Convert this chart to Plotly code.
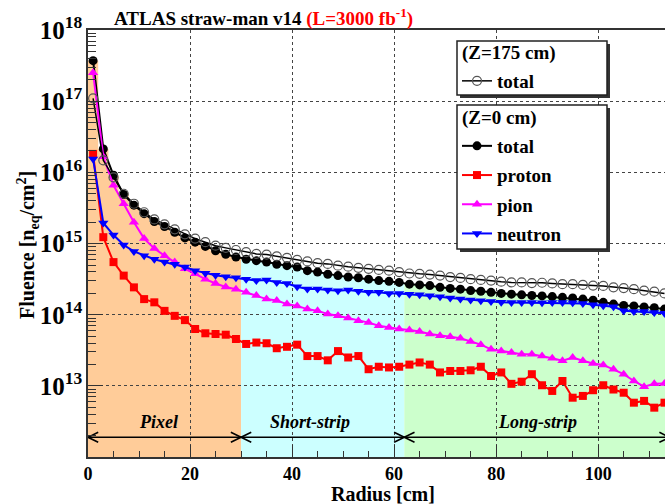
import math
import plotly.graph_objects as go

# ---------------- data ----------------
# bin centres [cm] (2 cm bins)
radius = [1, 3, 5, 7, 9, 11, 13, 15, 17, 19, 21, 23, 25, 27, 29, 31, 33, 35, 37, 39,
          41, 43, 45, 47, 49, 51, 53, 55, 57, 59, 61, 63, 65, 67, 69, 71, 73, 75, 77, 79,
          81, 83, 85, 87, 89, 91, 93, 95, 97, 99, 101, 103, 105, 107, 109, 111, 113]

# log10 of fluence [n_eq/cm^2]
total_z0_log = [17.57, 16.33, 15.96, 15.69, 15.54, 15.42, 15.31, 15.24, 15.16, 15.08,
                15.02, 14.96, 14.90, 14.85, 14.81, 14.78, 14.76, 14.74, 14.71, 14.69,
                14.67, 14.62, 14.60, 14.57, 14.55, 14.53, 14.52, 14.50, 14.48, 14.47,
                14.455, 14.43, 14.42, 14.41, 14.385, 14.37, 14.36, 14.34, 14.33, 14.315,
                14.30, 14.29, 14.28, 14.27, 14.265, 14.255, 14.245, 14.235, 14.22, 14.205,
                14.175, 14.15, 14.13, 14.125, 14.11, 14.10, 14.08]

total_z175_log = [17.04, 16.17, 15.93, 15.70, 15.56, 15.44, 15.34, 15.27, 15.20, 15.13,
                  15.07, 15.02, 14.97, 14.94, 14.91, 14.88, 14.855, 14.845, 14.82, 14.80,
                  14.77, 14.75, 14.725, 14.715, 14.69, 14.675, 14.66, 14.645, 14.63, 14.62,
                  14.60, 14.58, 14.575, 14.565, 14.55, 14.53, 14.517, 14.50, 14.49, 14.48,
                  14.465, 14.455, 14.455, 14.445, 14.45, 14.44, 14.43, 14.43, 14.42, 14.41,
                  14.405, 14.385, 14.375, 14.36, 14.34, 14.325, 14.30]

proton_log = [16.26, 15.09, 14.74, 14.55, 14.385, 14.22, 14.175, 14.055, 13.985, 13.925,
              13.80, 13.74, 13.73, 13.72, 13.66, 13.59, 13.61, 13.60, 13.53, 13.55,
              13.58, 13.42, 13.42, 13.36, 13.49, 13.40, 13.42, 13.235, 13.27, 13.26,
              13.27, 13.30, 13.33, 13.30, 13.19, 13.21, 13.21, 13.22, 13.27, 13.14,
              13.19, 13.03, 13.06, 13.165, 13.01, 12.93, 13.07, 12.835, 12.86, 12.94,
              13.01, 12.95, 12.905, 12.765, 12.79, 12.695, 12.765]

pion_log = [17.40, 16.22, 15.82, 15.56, 15.30, 15.07, 14.93, 14.83, 14.74, 14.645,
            14.575, 14.50, 14.44, 14.39, 14.36, 14.315, 14.27, 14.22, 14.20, 14.15,
            14.125, 14.08, 14.055, 14.01, 13.985, 13.955, 13.915, 13.89, 13.845, 13.82,
            13.80, 13.785, 13.765, 13.73, 13.705, 13.69, 13.67, 13.625, 13.58, 13.515,
            13.49, 13.47, 13.445, 13.445, 13.42, 13.39, 13.355, 13.40, 13.355, 13.315,
            13.295, 13.235, 13.165, 13.07, 12.99, 13.03, 13.035]

neutron_log = [16.19, 15.29, 15.12, 14.98, 14.89, 14.83, 14.78, 14.74, 14.71, 14.67,
               14.62, 14.585, 14.555, 14.535, 14.52, 14.50, 14.48, 14.488, 14.455, 14.44,
               14.395, 14.362, 14.362, 14.348, 14.338, 14.348, 14.33, 14.315, 14.315, 14.30,
               14.30, 14.29, 14.282, 14.268, 14.254, 14.235, 14.221, 14.207, 14.197, 14.187,
               14.175, 14.174, 14.172, 14.174, 14.17, 14.174, 14.172, 14.17, 14.16, 14.141,
               14.127, 14.113, 14.056, 14.047, 14.047, 14.033, 14.02]

# detector regions: name, from [cm], to [cm], colour, label centre [cm]
region_names = ["Pixel", "Short-strip", "Long-strip"]
region_lo = [0, 30, 62]
region_hi = [30, 62, 114]
region_colors = ["#ffcc99", "#ccffff", "#ccffcc"]
region_label_x = [13.9, 43.5, 88.2]

BIN_HALF = 1.0
Y_BOTTOM = 1e12
ARROW_Y = 1.9e12
LABEL_Y = 3.1e12

FONT = "Liberation Serif"


def tov(lst):
    return [10 ** v for v in lst]


total_z0 = tov(total_z0_log)
total_z175 = tov(total_z175_log)
proton = tov(proton_log)
pion = tov(pion_log)
neutron = tov(neutron_log)

# ---------------- figure ----------------
W, H = 665, 504
ML, MR, MT, MB = 88, 0, 30, 47
PW, PH = W - ML - MR, H - MT - MB


def px_x(p):
    return (p - ML) / PW


def px_y(p):
    return (H - MB - p) / PH


fig = go.Figure()

shapes = []
# region fills: histogram of total (Z=0) inside each region, drawn below grid
for lo, hi, col in zip(region_lo, region_hi, region_colors):
    pts = [(lo, Y_BOTTOM)]
    for x, v in zip(radius, total_z0):
        if lo < x < hi:
            pts.append((x - BIN_HALF, v))
            pts.append((x + BIN_HALF, v))
    pts.append((hi, Y_BOTTOM))
    path = "M " + " L ".join(f"{a:.3f},{b:.1f}" for a, b in pts) + " Z"
    shapes.append(dict(type="path", path=path, xref="x", yref="y", layer="below",
                       fillcolor=col, line=dict(width=0)))

# region arrows
ax_, ay_ = [], []
head_dx = 2.0
head_f = 10 ** 0.07
for lo, hi in zip(region_lo, region_hi):
    ax_ += [lo, hi, None]
    ay_ += [ARROW_Y, ARROW_Y, None]
    ax_ += [lo + head_dx, lo, lo + head_dx, None]
    ay_ += [ARROW_Y * head_f, ARROW_Y, ARROW_Y / head_f, None]
    ax_ += [hi - head_dx, hi, hi - head_dx, None]
    ay_ += [ARROW_Y * head_f, ARROW_Y, ARROW_Y / head_f, None]
fig.add_trace(go.Scatter(x=ax_, y=ay_, mode="lines", line=dict(color="black", width=1.6),
                         showlegend=False, hoverinfo="skip"))

# data series
fig.add_trace(go.Scatter(x=radius, y=total_z0, mode="lines+markers", name="total",
                         line=dict(color="black", width=2),
                         marker=dict(symbol="circle", size=9, color="black"),
                         legend="legend2", legendrank=1, legendgroup="g1"))
fig.add_trace(go.Scatter(x=radius, y=proton, mode="lines+markers", name="proton",
                         line=dict(color="#ff0000", width=2),
                         marker=dict(symbol="square", size=8, color="#ff0000"),
                         legend="legend2", legendrank=2, legendgroup="g2"))
fig.add_trace(go.Scatter(x=radius, y=pion, mode="lines+markers", name="pion",
                         line=dict(color="#ff00ff", width=2),
                         marker=dict(symbol="triangle-up", size=9, color="#ff00ff"),
                         legend="legend2", legendrank=3, legendgroup="g3"))
fig.add_trace(go.Scatter(x=radius, y=neutron, mode="lines+markers", name="neutron",
                         line=dict(color="#0000ff", width=2),
                         marker=dict(symbol="triangle-down", size=9, color="#0000ff"),
                         legend="legend2", legendrank=4, legendgroup="g4"))
fig.add_trace(go.Scatter(x=radius, y=total_z175, mode="lines+markers", name="total",
                         line=dict(color="black", width=1.5),
                         marker=dict(symbol="circle-open", size=9, color="#555555",
                                     line=dict(width=1.2, color="#555555")),
                         legend="legend", legendrank=1, legendgroup="g0"))

# legend boxes (shadow + framed white box), drawn above the data
legend_boxes = [(41, 95), (105, 249)]
BOX_L, BOX_R = 457, 607
for top, bot in legend_boxes:
    shapes.append(dict(type="rect", xref="paper", yref="paper", layer="above",
                       x0=px_x(BOX_L + 3), x1=px_x(BOX_R + 3),
                       y0=px_y(bot + 3), y1=px_y(top + 3),
                       fillcolor="#333333", line=dict(width=0)))
    shapes.append(dict(type="rect", xref="paper", yref="paper", layer="above",
                       x0=px_x(BOX_L), x1=px_x(BOX_R), y0=px_y(bot), y1=px_y(top),
                       fillcolor="white", line=dict(color="#222222", width=1.5)))

annotations = []
# title
annotations.append(dict(
    text="<b>ATLAS straw-man v14 <span style='color:#ff0000'>(L=3000 fb<sup>-1</sup>)</span></b>",
    xref="paper", yref="paper", x=px_x(263), y=1.0, xanchor="center", yanchor="bottom",
    yshift=-2, showarrow=False, font=dict(family=FONT, size=19, color="black")))
# axis titles
annotations.append(dict(text="<b>Radius [cm]</b>", xref="paper", yref="paper",
                        x=px_x(382.5), y=px_y(494), xanchor="center", yanchor="middle",
                        showarrow=False, font=dict(family=FONT, size=20, color="black")))
annotations.append(dict(text="<b>Fluence [n<sub>eq</sub>/cm<sup>2</sup>]</b>",
                        xref="paper", yref="paper", x=px_x(28), y=px_y(245),
                        xanchor="center", yanchor="middle", textangle=-90,
                        showarrow=False, font=dict(family=FONT, size=20, color="black")))
# legend headers
for txt, yc in [("(Z=175 cm)", 53), ("(Z=0 cm)", 118)]:
    annotations.append(dict(text=f"<b>{txt}</b>", xref="paper", yref="paper",
                            x=px_x(459.5), y=px_y(yc), xanchor="left", yanchor="middle",
                            showarrow=False, font=dict(family=FONT, size=19, color="black")))
# region labels
for name, lx in zip(region_names, region_label_x):
    annotations.append(dict(text=f"<b><i>{name}</i></b>", x=lx, y=math.log10(LABEL_Y),
                            xref="x", yref="y", showarrow=False, xanchor="center",
                            yanchor="middle", font=dict(family=FONT, size=18, color="black")))

legend_font = dict(family=FONT, size=19, color="black", weight="bold")
legend_common = dict(xanchor="left", yanchor="top", bgcolor="rgba(0,0,0,0)",
                     borderwidth=0, font=legend_font, itemwidth=30, tracegroupgap=1.5)

fig.update_layout(
    width=W, height=H,
    margin=dict(l=ML, r=MR, t=MT, b=MB, pad=0),
    paper_bgcolor="white", plot_bgcolor="white",
    showlegend=True,
    legend=dict(x=px_x(457), y=px_y(62), **legend_common),
    legend2=dict(x=px_x(457), y=px_y(127), **legend_common),
    shapes=shapes,
    annotations=annotations,
    xaxis=dict(range=[0, 113.1], dtick=20, tick0=0, ticks="inside", ticklen=12,
               tickcolor="#333333", tickwidth=1.2,
               tickfont=dict(family=FONT, size=18, color="black", weight="bold"),
               showline=True, linecolor="#333333", linewidth=1.5, mirror=True,
               showgrid=True, gridcolor="#444444", griddash="dot", gridwidth=1,
               zeroline=False,
               minor=dict(dtick=5, ticks="inside", ticklen=6, tickcolor="#333333",
                          showgrid=False)),
    yaxis=dict(type="log", range=[12.002, 18.0005], dtick=1, exponentformat="power",
               ticks="inside", ticklen=15, tickcolor="#333333", tickwidth=1.2,
               tickfont=dict(family=FONT, size=20, color="black", weight="bold"),
               showline=True, linecolor="#333333", linewidth=1.5, mirror=False,
               showgrid=True, gridcolor="#444444", griddash="dot", gridwidth=1,
               zeroline=False,
               minor=dict(dtick="D1", ticks="inside", ticklen=8, tickcolor="#333333",
                          showgrid=False)),
)

fig.write_html("out.html")
